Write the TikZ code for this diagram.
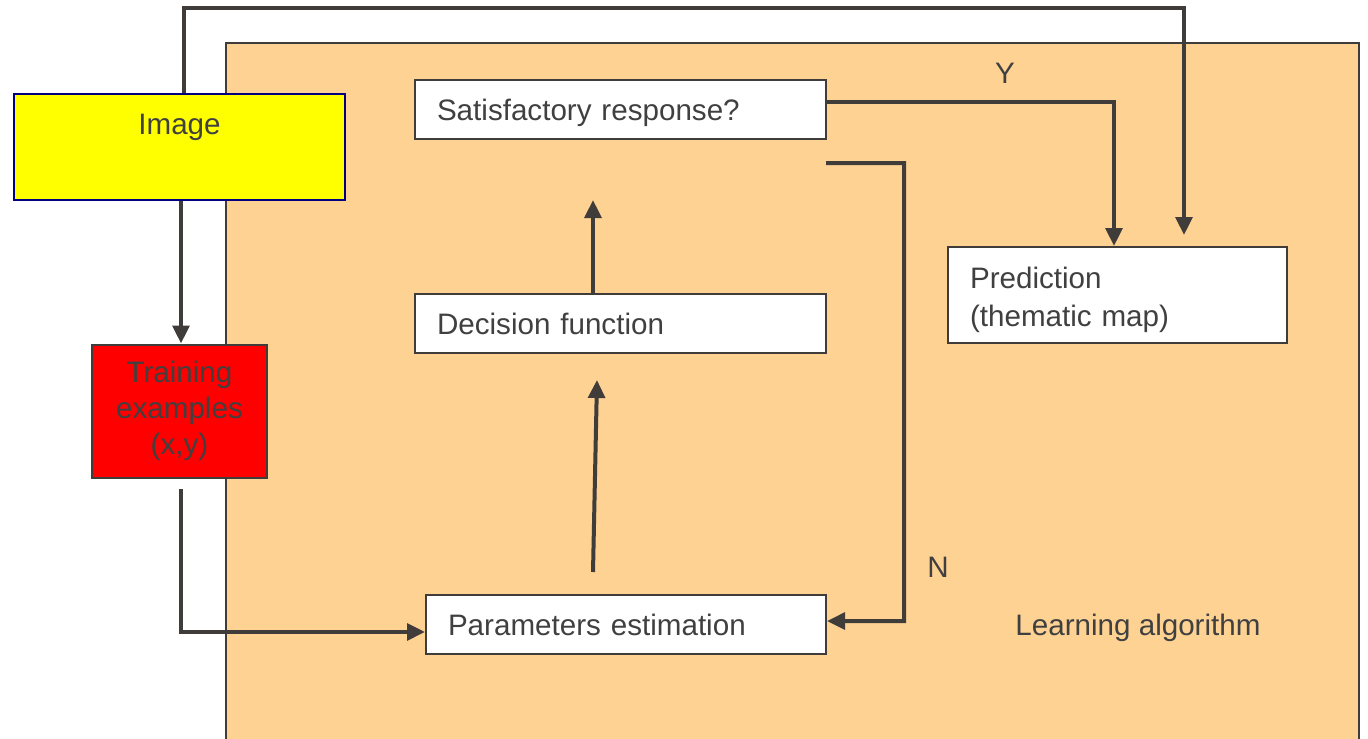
\documentclass[tikz,border=0pt]{standalone}
\usepackage{fontspec}
\setmainfont{Liberation Sans}
\usetikzlibrary{arrows.meta}
\definecolor{algofill}{HTML}{FDD293}
\definecolor{linegray}{HTML}{403C3A}
\definecolor{textgray}{HTML}{404040}
\definecolor{imgblue}{HTML}{000080}
\definecolor{imgyellow}{HTML}{FFFF00}
\begin{document}
\begin{tikzpicture}
[x=0.75pt,y=-0.75pt,
  font=\fontsize{22.2}{27}\selectfont,text=textgray,
  stepbox/.style={shape=rectangle,draw=linegray,line width=1.5pt,fill=white,
    minimum height=44.25pt,inner xsep=16.5pt,align=left},%
  conn/.style={-{Triangle[length=13.5pt,width=12.5pt]},line width=3pt,draw=linegray}]
\useasboundingbox (0,0) rectangle (1368,739);
%% the learning algorithm area
\fill[algofill] (226,43) rectangle (1359,739);
\draw[linegray,line width=2pt] (226,739) |- (1359,43) -- (1359,739);
%% nodes
\node (image) at (179.5,147) [shape=rectangle,draw=imgblue,line width=2pt,
  fill=imgyellow,minimum width=248.25pt,minimum height=79.5pt] {};
\node (imagetext) at (179.5,127) {Image};
\node (train) at (179.5,411) [shape=rectangle,draw=linegray,line width=1.5pt,
  fill=red,minimum width=131.25pt,minimum height=99.75pt,align=center]
  {Training\\examples\\(x,y)};
\foreach \nodename/\nodelabel/\x/\y/\boxwidth in {
  sat/Satisfactory response?/620.5/109.5/275.25,
  dec/Decision function/620.5/323.5/275.25,
  par/Parameters estimation/626/624.5/267} {
  \node (\nodename) at (\x,\y) [stepbox,text width=\boxwidth pt,
    text depth=0pt] {\nodelabel};
}
\node (pred) at (1117.5,295) [stepbox,minimum height=72pt,text width=221.25pt,
  font=\fontsize{22.2}{28.5}\selectfont]
  {\rule{0pt}{23.7pt}Prediction\\(thematic map)};
%% labels
\node (ylabel) at (1005,73) {Y};
\node (nlabel) at (938,567) {N};
\node (algolabel) at (1138,628) {Learning algorithm};
%% free ends
\coordinate (predin) at (1184,235);
\coordinate (trainout) at (181,489);
\coordinate (parout) at (593,572);
\coordinate (decin) at (597,380);
\coordinate (satin) at (593,200);
\coordinate (nstart) at (826,163);
%% edges
\draw[conn] (184,0 |- image.north) |- (1184,8) -- (predin);
\draw[conn] (181,0 |- image.south) -- (181,0 |- train.north);
\draw[conn] (trainout) |- ([yshift=-5.6pt]par.west);
\draw[conn] (parout) -- (decin);
\draw[conn] (593,0 |- dec.north) -- (satin);
\draw[conn] (sat.east |- 0,102) -| (1114,0 |- pred.north);
\draw[conn] (nstart) -| (904,621) -- ([yshift=2.6pt]par.east);
\end{tikzpicture}
\end{document}
